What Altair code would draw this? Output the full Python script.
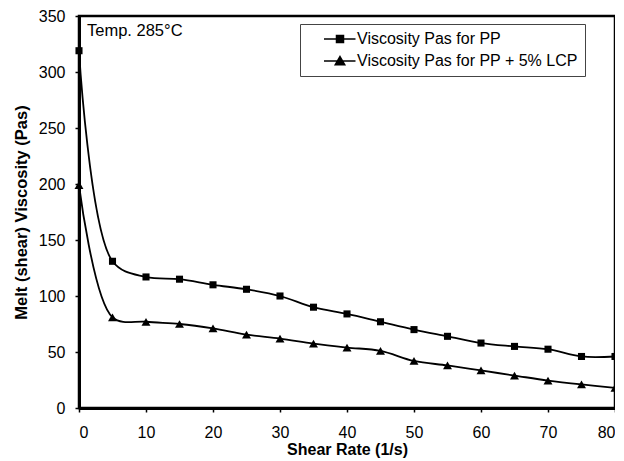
import altair as alt
import pandas as pd

shear = [0, 5, 10, 15, 20, 25, 30, 35, 40, 45, 50, 55, 60, 65, 70, 75, 80]
visc_pp = [319, 131, 117, 115, 110, 106, 100, 90, 84, 77, 70, 64, 58, 55, 52.5, 46, 46]
visc_lcp = [199, 81, 77, 75, 71, 65.5, 62, 57.5, 54, 51, 42, 38, 33.5, 29, 24.5, 21, 18]
series_names = ["Viscosity Pas for PP", "Viscosity Pas for PP + 5% LCP"]

rows = []
for s, v in zip(shear, visc_pp):
    rows.append({"shear": s, "visc": v, "series": series_names[0]})
for s, v in zip(shear, visc_lcp):
    rows.append({"shear": s, "visc": v, "series": series_names[1]})
df = pd.DataFrame(rows)

FONT = "Liberation Sans"

x = alt.X("shear:Q", title="Shear Rate (1/s)",
          scale=alt.Scale(domain=[0, 80], nice=False),
          axis=alt.Axis(values=list(range(0, 81, 10)), grid=False, tickSize=4,
                        labelPadding=12, titlePadding=1, labelFontSize=16,
                        titleFontSize=16, titleFontWeight="bold"))
y = alt.Y("visc:Q", title="Melt (shear) Viscosity (Pas)",
          scale=alt.Scale(domain=[0, 350], nice=False),
          axis=alt.Axis(values=list(range(0, 351, 50)), grid=False, tickSize=4,
                        labelPadding=10, titlePadding=9, labelFontSize=16,
                        titleFontSize=16.5, titleFontWeight="bold"))

lines = alt.Chart(df).mark_line(color="black", strokeWidth=1.8, interpolate="catmull-rom").encode(
    x=x, y=y, detail="series:N")

pts_pp = alt.Chart(df).transform_filter(alt.datum.series == series_names[0]).mark_point(
    shape="square", filled=True, color="black", size=50, opacity=1).encode(x=x, y=y)
pts_lcp = alt.Chart(df).transform_filter(alt.datum.series == series_names[1]).mark_point(
    shape="triangle-up", filled=True, color="black", size=80, opacity=1).encode(x=x, y=y)

# legend glyphs: a line with a solid marker (marker filled by dense strokes)
sq_path = ("M1.8,0H8.1"
           "M4.3,-0.7H5.7V0.7H4.3Z"
           "M4.3,-0.45H5.7M4.3,-0.25H5.7M4.3,0.25H5.7M4.3,0.45H5.7")
tri_path = ("M1.8,0H8.1"
            "M5.0,-0.9L5.95,0.75H4.05Z"
            "M4.83,-0.6H5.17M4.66,-0.3H5.34M4.31,0.3H5.69M4.14,0.55H5.86")

legend_layer = alt.Chart(df).mark_point(opacity=0).encode(
    x=x, y=y,
    shape=alt.Shape("series:N", title=None,
                    scale=alt.Scale(domain=series_names, range=[sq_path, tri_path]),
                    legend=alt.Legend(orient="none", legendX=221, legendY=8,
                                      padding=7, strokeColor="#444",
                                      fillColor="white",
                                      symbolSize=100,
                                      symbolStrokeColor="black", symbolStrokeWidth=1.5,
                                      symbolOpacity=1, labelOffset=34,
                                      labelFontSize=16, labelFont=FONT, labelLimit=400,
                                      labelColor="black", rowPadding=6)))

temp = alt.Chart(pd.DataFrame({"t": ["Temp. 285°C"]})).mark_text(
    align="left", baseline="alphabetic", fontSize=16.5, font=FONT, color="black").encode(
    x=alt.value(8), y=alt.value(20), text="t:N")

chart = alt.layer(legend_layer, lines, pts_pp, pts_lcp, temp).properties(
    width=536, height=392, background="white",
    autosize=alt.AutoSizeParams(type="none"),
    padding={"left": 71, "top": 8, "right": 0, "bottom": 53},
).configure_view(stroke="black", strokeWidth=2.5).configure_axis(
    domainColor="black", domainWidth=3, tickColor="black", labelColor="black",
    titleColor="black", labelFont=FONT, titleFont=FONT, tickWidth=1.5,
)

chart.save("out.html", embed_options={"renderer": "svg", "actions": False})
